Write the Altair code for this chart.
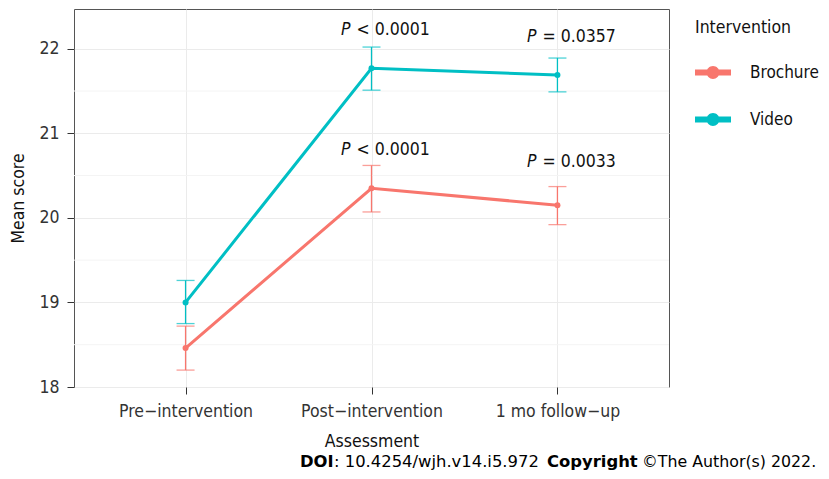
import altair as alt
import pandas as pd

# ---- data ----
assessments = ["Pre−intervention", "Post−intervention", "1 mo follow−up"]
groups = ["Brochure", "Video"]
colors = ["#F8766D", "#00BFC4"]

brochure_mean = [18.46, 20.35, 20.15]
brochure_lo = [18.20, 20.07, 19.92]
brochure_hi = [18.72, 20.62, 20.37]

video_mean = [19.00, 21.77, 21.69]
video_lo = [18.75, 21.51, 21.49]
video_hi = [19.26, 22.02, 21.89]

p_assess = ["Post−intervention", "1 mo follow−up", "Post−intervention", "1 mo follow−up"]
p_prefix = ["P", "P", "P", "P"]
p_rest = ["< 0.0001", "= 0.0357", "< 0.0001", "= 0.0033"]
p_ypos = [22.22, 22.14, 20.80, 20.66]

y_ticks = [18, 19, 20, 21, 22]
minor_grid = [18.5, 19.5, 20.5, 21.5]

FONT = "DejaVu Sans Condensed, Liberation Sans, sans-serif"
FOOT_FONT = "DejaVu Sans"
FS = 17.5

rows = []
for g, m, lo, hi in [("Brochure", brochure_mean, brochure_lo, brochure_hi),
                     ("Video", video_mean, video_lo, video_hi)]:
    for a, mv, lv, hv in zip(assessments, m, lo, hi):
        rows.append({"Assessment": a, "Intervention": g, "mean": mv, "lo": lv, "hi": hv})
df = pd.DataFrame(rows)
pdf = pd.DataFrame({"Assessment": p_assess, "pre": p_prefix, "rest": p_rest, "y": p_ypos})
gdf = pd.DataFrame({"v": minor_grid})

x_enc = alt.X("Assessment:N", sort=assessments,
              scale=alt.Scale(type="point", padding=0.6, domain=assessments),
              axis=alt.Axis(title="Assessment", labelAngle=0, grid=True, gridColor="#EBEBEB",
                            domain=False, tickSize=7, tickColor="#333", labelPadding=8,
                            titlePadding=13))
y_scale = alt.Scale(domain=[18, 22.47], nice=False, zero=False)
y_axis = alt.Axis(title="Mean score", values=y_ticks, format="d", grid=True, gridColor="#EBEBEB",
                  domain=False, tickSize=7, tickColor="#333", labelPadding=8, titlePadding=11)
color_scale = alt.Scale(domain=groups, range=colors)

legend_path = ("M -1 -0.17 L 1 -0.17 L 1 0.17 L -1 0.17 Z "
               "M 0.36 0 A 0.36 0.36 0 1 1 -0.36 0 A 0.36 0.36 0 1 1 0.36 0 Z")

legend = alt.Legend(
    title="Intervention", orient="none", legendX=621, legendY=10,
    symbolType=legend_path, symbolSize=1296, symbolStrokeWidth=0, symbolOpacity=1,
    titleFont=FONT, titleFontSize=FS, titleFontWeight="normal", titleColor="#111",
    titlePadding=18, labelFont=FONT, labelFontSize=17, labelColor="#111",
    labelOffset=19, rowPadding=21,
)
col = alt.Color("Intervention:N", scale=color_scale, legend=legend)

base = alt.Chart(df)

minor = alt.Chart(gdf).mark_rule(color="#F4F4F4", strokeWidth=1).encode(
    y=alt.Y("v:Q", scale=y_scale, axis=y_axis))

err = base.mark_rule(strokeWidth=1.3).encode(
    x=x_enc, y=alt.Y("lo:Q", scale=y_scale, axis=y_axis), y2="hi:Q", color=col)
cap_lo = base.mark_tick(size=18, thickness=1.3).encode(
    x=x_enc, y=alt.Y("lo:Q", scale=y_scale), color=col)
cap_hi = base.mark_tick(size=18, thickness=1.3).encode(
    x=x_enc, y=alt.Y("hi:Q", scale=y_scale), color=col)
line = base.mark_line(strokeWidth=3).encode(
    x=x_enc, y=alt.Y("mean:Q", scale=y_scale), color=col)
pts = base.mark_point(filled=True, size=36, opacity=1).encode(
    x=x_enc, y=alt.Y("mean:Q", scale=y_scale), color=col)

ptxt = alt.Chart(pdf).mark_text(font=FONT, fontSize=FS, fontStyle="italic", align="right",
                                baseline="middle", dx=-21, color="#111").encode(
    x=x_enc, y=alt.Y("y:Q", scale=y_scale), text="pre:N")
rtxt = alt.Chart(pdf).mark_text(font=FONT, fontSize=FS, align="left",
                                baseline="middle", dx=-15, color="#111").encode(
    x=x_enc, y=alt.Y("y:Q", scale=y_scale), text="rest:N")

one = pd.DataFrame({"t": [0]})
def foot(txt, xpos, bold, size=16.4):
    return alt.Chart(one).mark_text(font=FOOT_FONT, fontSize=size, align="left", baseline="alphabetic",
                                    fontWeight="bold" if bold else "normal", color="#000").encode(
        x=alt.value(xpos), y=alt.value(458), text=alt.value(txt))

footer = (foot("DOI", 226, True) + foot(": 10.4254/wjh.v14.i5.972", 260, False)
          + foot("Copyright", 473, True) + foot("©The Author(s) 2022.", 568, False, 15.8))

chart = alt.layer(minor, err, cap_lo, cap_hi, line, pts, ptxt, rtxt, footer).properties(
    width=595, height=378,
    autosize=alt.AutoSizeParams(type="none"),
    padding={"left": 66, "top": 1, "right": 152, "bottom": 84},
).configure_view(stroke="#555", strokeWidth=1).configure_axis(
    labelFont=FONT, labelFontSize=FS, labelColor="#333",
    titleFont=FONT, titleFontSize=FS, titleFontWeight="normal", titleColor="#111"
)

chart.save("out.html", embed_options={"renderer": "svg", "actions": False})
